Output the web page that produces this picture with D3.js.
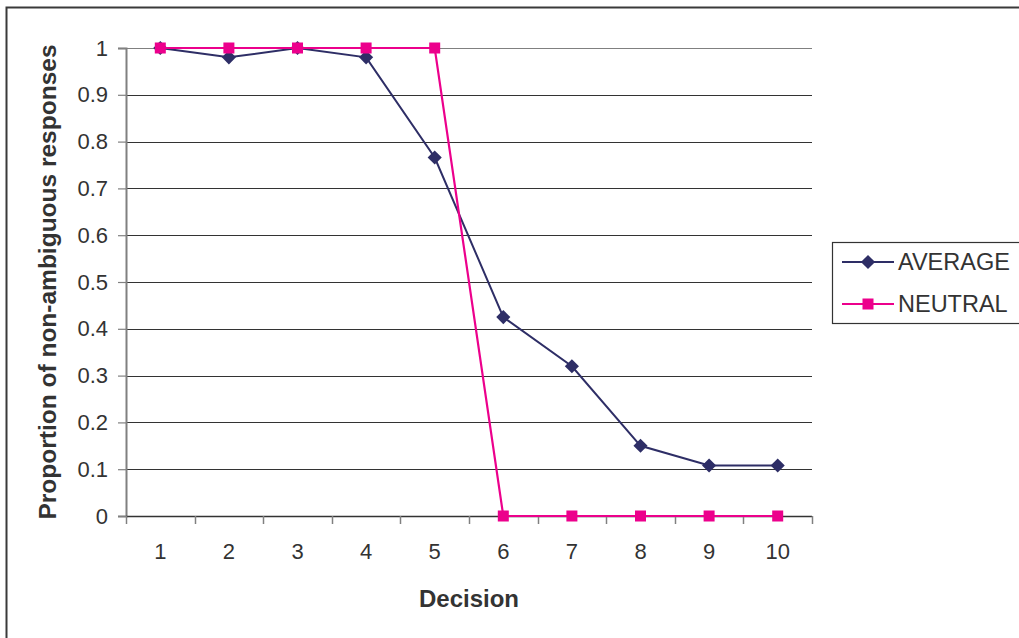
<!DOCTYPE html>
<html>
<head>
<meta charset="utf-8">
<script src="https://cdn.jsdelivr.net/npm/d3@7"></script>
<style>
  body { margin: 0; background: #fff; }
  text { font-family: "Liberation Sans", Arial, sans-serif; fill: #333; }
</style>
</head>
<body>
<svg id="chart" width="1019" height="638"></svg>
<script>
var decisions = [1, 2, 3, 4, 5, 6, 7, 8, 9, 10]
var average = [1, 0.98, 1, 0.98, 0.766, 0.425, 0.32, 0.15, 0.108, 0.108]
var neutral = [1, 1, 1, 1, 1, 0, 0, 0, 0, 0]
var yTicks = [0, 0.1, 0.2, 0.3, 0.4, 0.5, 0.6, 0.7, 0.8, 0.9, 1]
var seriesNames = ['AVERAGE', 'NEUTRAL']

var svg = d3.select('#chart')
var margin = { top: 48, left: 126, bottom: 122, right: 207 }
var width = +svg.attr('width')
var height = +svg.attr('height')
var chartWidth = width - margin.left - margin.right
var chartHeight = height - margin.top - margin.bottom

// outer chart border (runs off right and bottom edges)
svg.append('rect')
  .attr('x', 6.5).attr('y', 7.5)
  .attr('width', 1040).attr('height', 660)
  .attr('fill', 'none')
  .attr('stroke', '#3a3a3a')
  .attr('stroke-width', 2)

var x = d3.scaleBand()
  .domain(decisions)
  .range([0, chartWidth])

var y = d3.scaleLinear()
  .domain([0, 1])
  .range([chartHeight, 0])

var g = svg.append('g')
  .attr('transform', 'translate(' + margin.left + ',' + margin.top + ')')

// gridlines
g.selectAll('line.grid')
  .data(yTicks.filter(function (d) { return d > 0 }))
  .enter().append('line')
  .attr('class', 'grid')
  .attr('x1', 0).attr('x2', chartWidth)
  .attr('y1', function (d) { return Math.round(y(d)) + 0.5 })
  .attr('y2', function (d) { return Math.round(y(d)) + 0.5 })
  .attr('stroke', function (d) { return d === 1 ? '#808080' : '#333' })
  .attr('stroke-width', 1.2)

// y axis
var gY = g.append('g')
  .call(d3.axisLeft(y).tickValues(yTicks).tickSize(8).tickPadding(10)
    .tickFormat(function (d) { return d3.format('')(+d.toFixed(1)) }))
gY.select('.domain').attr('stroke', '#808080').attr('stroke-width', 2)
gY.selectAll('.tick line').attr('stroke', '#808080').attr('stroke-width', 1.2)
gY.selectAll('.tick text').attr('font-size', 22).style('fill', '#333')
  .attr('font-family', '"Liberation Sans", Arial, sans-serif')

// x axis
var gX = g.append('g')
  .attr('transform', 'translate(0,' + chartHeight + ')')
  .call(d3.axisBottom(x).tickSize(0).tickPadding(27))
gX.select('.domain').remove()
gX.append('line')
  .attr('x1', 0).attr('x2', chartWidth)
  .attr('y1', 0.5).attr('y2', 0.5)
  .attr('stroke', '#333').attr('stroke-width', 1.5)
gX.selectAll('line.xtick')
  .data(decisions.concat([null]))
  .enter().append('line')
  .attr('class', 'xtick')
  .attr('x1', function (d, i) { return Math.round(i * x.step()) + 0.5 })
  .attr('x2', function (d, i) { return Math.round(i * x.step()) + 0.5 })
  .attr('y1', 0).attr('y2', 8)
  .attr('stroke', '#808080').attr('stroke-width', 1.5)
gX.selectAll('.tick text').attr('font-size', 22).style('fill', '#333')
  .attr('font-family', '"Liberation Sans", Arial, sans-serif')

// axis titles
svg.append('text')
  .attr('x', margin.left + chartWidth / 2)
  .attr('y', 607)
  .attr('text-anchor', 'middle')
  .attr('font-size', 24)
  .attr('font-weight', 'bold')
  .text('Decision')

svg.append('text')
  .attr('transform', 'translate(56,' + (margin.top + chartHeight / 2) + ') rotate(-90)')
  .attr('text-anchor', 'middle')
  .attr('font-size', 24.5)
  .attr('font-weight', 'bold')
  .text('Proportion of non-ambiguous responses')

var cx = function (d, i) { return x(decisions[i]) + x.bandwidth() / 2 }
var line = d3.line()
  .x(cx)
  .y(function (d) { return y(d) })

var avgColor = '#2e2e66'
var neuColor = '#ec008c'

g.append('path').datum(average)
  .attr('fill', 'none').attr('stroke', avgColor).attr('stroke-width', 2)
  .attr('d', line)

// diamond = square rotated 45 degrees
var diamond = d3.symbol().type(d3.symbolSquare).size(100)
g.selectAll('path.avg')
  .data(average).enter().append('path')
  .attr('class', 'avg')
  .attr('d', diamond)
  .attr('transform', function (d, i) { return 'translate(' + cx(d, i) + ',' + y(d) + ') rotate(45)' })
  .attr('fill', avgColor)

g.append('path').datum(neutral)
  .attr('fill', 'none').attr('stroke', neuColor).attr('stroke-width', 2.2)
  .attr('d', line)

g.selectAll('rect.neu')
  .data(neutral).enter().append('rect')
  .attr('class', 'neu')
  .attr('x', function (d, i) { return cx(d, i) - 5.5 })
  .attr('y', function (d) { return y(d) - 5.5 })
  .attr('width', 11).attr('height', 11)
  .attr('fill', neuColor)

// legend
var leg = svg.append('g').attr('transform', 'translate(832,242)')
leg.append('rect')
  .attr('x', 0.5).attr('y', 0.5)
  .attr('width', 200).attr('height', 81)
  .attr('fill', '#fff').attr('stroke', '#333').attr('stroke-width', 1.2)

var legColors = [avgColor, neuColor]
seriesNames.forEach(function (name, i) {
  var ly = 20 + i * 42
  leg.append('line')
    .attr('x1', 10).attr('x2', 62)
    .attr('y1', ly).attr('y2', ly)
    .attr('stroke', legColors[i]).attr('stroke-width', 2)
  if (i === 0) {
    leg.append('path').attr('d', diamond)
      .attr('transform', 'translate(36,' + ly + ') rotate(45)')
      .attr('fill', legColors[i])
  } else {
    leg.append('rect')
      .attr('x', 30.5).attr('y', ly - 5.5)
      .attr('width', 11).attr('height', 11)
      .attr('fill', legColors[i])
  }
  leg.append('text')
    .attr('x', 66).attr('y', ly + 8)
    .attr('font-size', 23.5)
    .text(name)
})
</script>
</body>
</html>
